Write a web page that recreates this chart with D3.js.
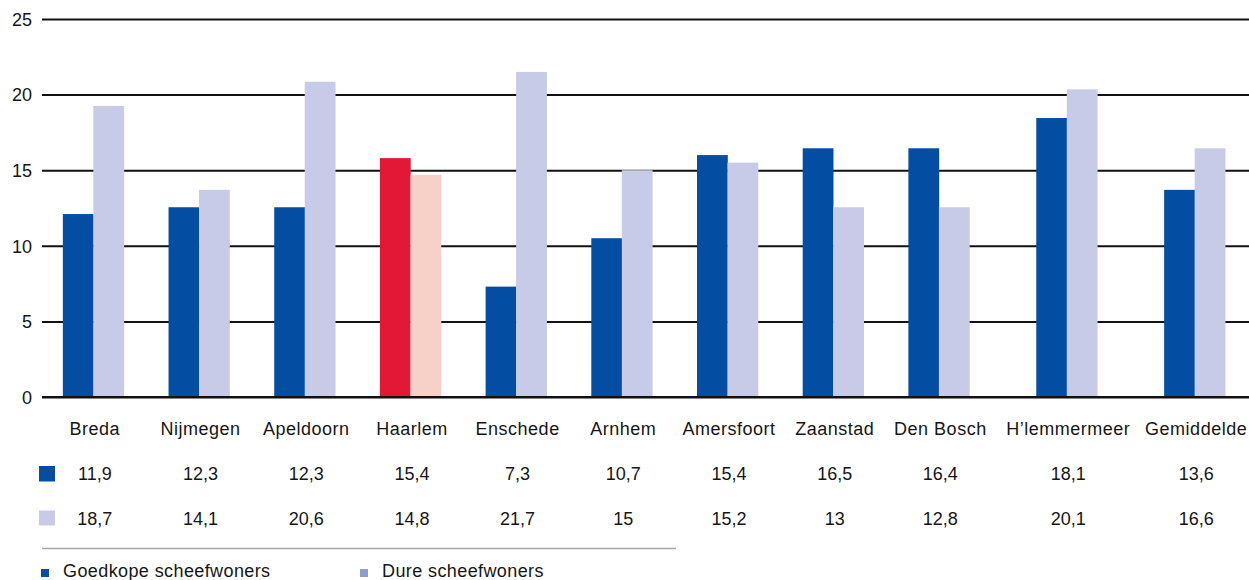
<!DOCTYPE html>
<html>
<head>
<meta charset="utf-8">
<script src="https://cdn.jsdelivr.net/npm/d3@7/dist/d3.min.js"></script>
<style>
  html, body { margin: 0; padding: 0; background: #fff; }
  svg { display: block; }
  text { font-family: "Liberation Sans", Arial, Helvetica, sans-serif; fill: #161616; }
</style>
</head>
<body>
<svg id="chart" width="1249" height="580"></svg>
<script>
// ---- data ----
const categories = ["Breda", "Nijmegen", "Apeldoorn", "Haarlem", "Enschede", "Arnhem",
  "Amersfoort", "Zaanstad", "Den Bosch", "H\u2019lemmermeer", "Gemiddelde"];
// bar heights as drawn in the picture
const goedkoop = [12.1, 12.55, 12.55, 15.8, 7.3, 10.5, 16.0, 16.45, 16.45, 18.45, 13.7];
const duur     = [19.25, 13.7, 20.85, 14.7, 21.5, 15.0, 15.5, 12.55, 12.55, 20.35, 16.45];
// values printed in the data table
const tableGoedkoop = ["11,9", "12,3", "12,3", "15,4", "7,3", "10,7", "15,4", "16,5", "16,4", "18,1", "13,6"];
const tableDuur     = ["18,7", "14,1", "20,6", "14,8", "21,7", "15", "15,2", "13", "12,8", "20,1", "16,6"];
const yTicks = [0, 5, 10, 15, 20, 25];
const seriesNames = ["Goedkope scheefwoners", "Dure scheefwoners"];
const highlight = "Haarlem";

// ---- layout ----
const left = 42, right = 1249, y0 = 397, yTop = 19;
const svg = d3.select("#chart");

const colors = {
  goedkoop: "#034ea2", duur: "#c8cbe8",
  goedkoopHi: "#e31837", duurHi: "#f7d1c8",
  legendDuur: "#8e9ccf"
};

// column widths (the H'lemmermeer column is wider in the original table layout)
const colWeight = categories.map(c => c === "H\u2019lemmermeer" ? 1.42 : 1);
const cum = [0];
colWeight.forEach(w => cum.push(cum[cum.length - 1] + w));
const xUnits = d3.scaleLinear().domain([0, cum[cum.length - 1]]).range([left, right]);
const colCenter = i => xUnits((cum[i] + cum[i + 1]) / 2);

const y = d3.scaleLinear().domain([0, 25]).range([y0, yTop]);

// gridlines
const yAxis = d3.axisLeft(y).tickValues(yTicks).tickSize(-(right - left)).tickPadding(10);
const gAxis = svg.append("g").attr("transform", `translate(${left},0)`).call(yAxis);
gAxis.select(".domain").remove();
gAxis.selectAll(".tick line").attr("stroke", "#111").attr("stroke-width", 2);
gAxis.selectAll(".tick text").attr("font-size", 18).attr("fill", "#161616")
  .attr("font-family", "Liberation Sans, Arial, sans-serif").attr("dy", "0.35em");

// bars
const sub = d3.scaleBand().domain(["goedkoop", "duur"]).range([-31, 30]).padding(0);
const gBars = svg.append("g");
categories.forEach((c, i) => {
  const cx = colCenter(i) - 1;
  const hi = c === highlight;
  [["goedkoop", goedkoop[i]], ["duur", duur[i]]].forEach(([k, v]) => {
    gBars.append("rect")
      .attr("x", cx + sub(k))
      .attr("width", sub.bandwidth() + 0.3)
      .attr("y", y(v))
      .attr("height", y(0) - y(v))
      .attr("fill", hi ? colors[k + "Hi"] : colors[k]);
  });
});
// redraw zero line on top
svg.append("line").attr("x1", left).attr("x2", right).attr("y1", y(0)).attr("y2", y(0))
  .attr("stroke", "#111").attr("stroke-width", 2);

// table
const gT = svg.append("g").attr("font-size", 18);
categories.forEach((c, i) => {
  const cx = colCenter(i);
  gT.append("text").attr("x", cx).attr("y", 435).attr("text-anchor", "middle")
    .attr("letter-spacing", 0.5).text(c);
  gT.append("text").attr("x", cx).attr("y", 480).attr("text-anchor", "middle").text(tableGoedkoop[i]);
  gT.append("text").attr("x", cx).attr("y", 525).attr("text-anchor", "middle").text(tableDuur[i]);
});
svg.append("rect").attr("x", 39).attr("y", 466).attr("width", 16).attr("height", 15.5).attr("fill", colors.goedkoop);
svg.append("rect").attr("x", 39).attr("y", 510.5).attr("width", 16).attr("height", 15).attr("fill", colors.duur);

// separator
svg.append("line").attr("x1", left).attr("x2", 676).attr("y1", 548.5).attr("y2", 548.5)
  .attr("stroke", "#a6a6a6").attr("stroke-width", 1.5);

// legend
const legend = [
  { name: seriesNames[0], color: colors.goedkoop, x: 41 },
  { name: seriesNames[1], color: colors.legendDuur, x: 360 }
];
legend.forEach(l => {
  svg.append("rect").attr("x", l.x).attr("y", 569).attr("width", 8).attr("height", 8).attr("fill", l.color);
  svg.append("text").attr("x", l.x + 22).attr("y", 577).attr("font-size", 18)
    .attr("letter-spacing", 0.4).text(l.name);
});
</script>
</body>
</html>
